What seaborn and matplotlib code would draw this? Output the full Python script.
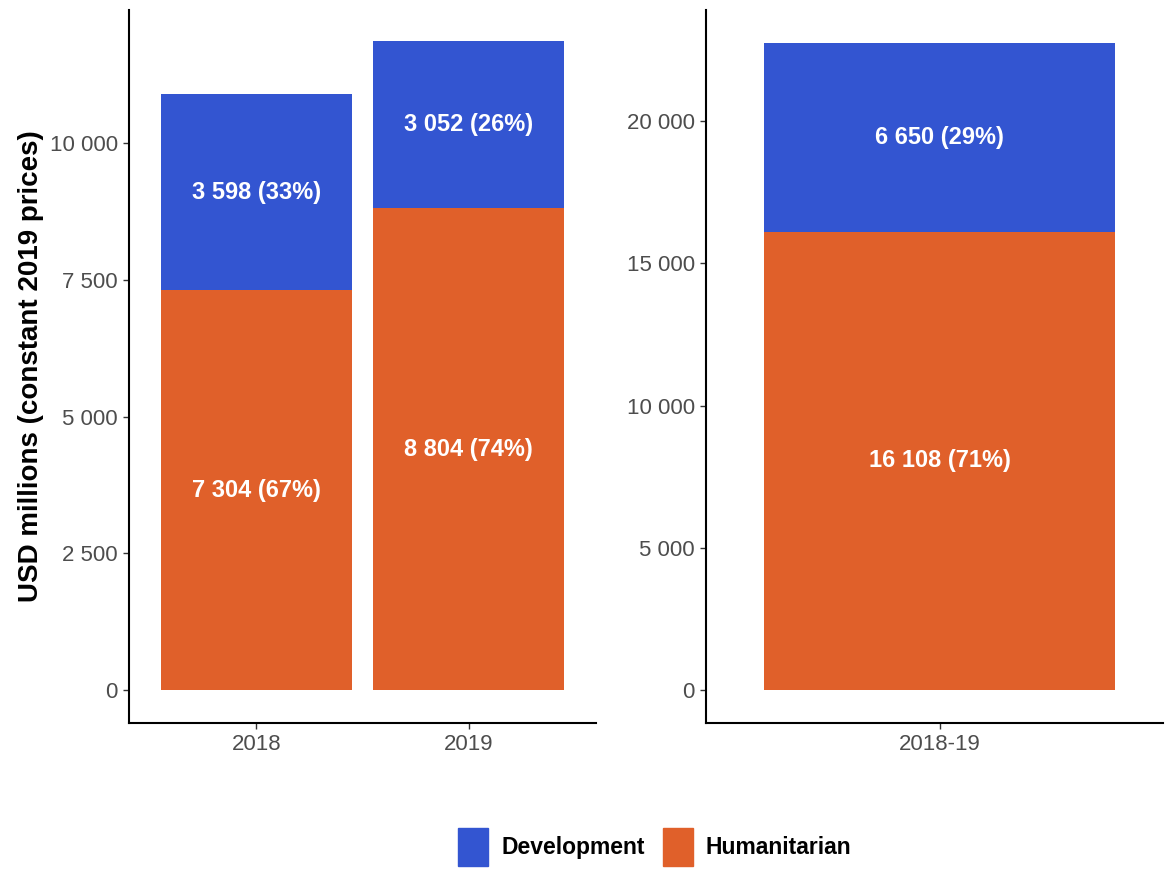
import matplotlib
matplotlib.use("Agg")
import matplotlib.pyplot as plt
from matplotlib.patches import Patch
from matplotlib.ticker import FuncFormatter
import seaborn as sns

# values (USD millions, constant 2019 prices)
years = ["2018", "2019"]
humanitarian = [7304, 8804]
development = [3598, 3052]

period = ["2018-19"]
humanitarian_total = [16108]
development_total = [6650]

left_ticks = [0, 2500, 5000, 7500, 10000]
right_ticks = [0, 5000, 10000, 15000, 20000]

blue = "#3355D1"
orange = "#E0602A"

sns.set_style("ticks")
plt.rcParams["font.family"] = ["Liberation Sans", "DejaVu Sans"]


def fmt(v):
    return f"{v:,.0f}".replace(",", " ")


def stacked(ax, cats, hum, dev):
    tot = [h + d for h, d in zip(hum, dev)]
    sns.barplot(x=cats, y=tot, color=blue, saturation=1, width=0.9,
                linewidth=0, errorbar=None, ax=ax)
    sns.barplot(x=cats, y=hum, color=orange, saturation=1, width=0.9,
                linewidth=0, errorbar=None, ax=ax)
    for i, (h, d) in enumerate(zip(hum, dev)):
        t = h + d
        ax.text(i, h / 2, f"{fmt(h)} ({round(100 * h / t)}%)", ha="center",
                va="center", color="white", fontsize=17, fontweight="bold")
        ax.text(i, h + d / 2, f"{fmt(d)} ({round(100 * d / t)}%)", ha="center",
                va="center", color="white", fontsize=17, fontweight="bold")


def style(ax, ticks):
    ax.set_yticks(ticks)
    ax.yaxis.set_major_formatter(FuncFormatter(lambda v, p: fmt(v)))
    for s in ["top", "right"]:
        ax.spines[s].set_visible(False)
    for s in ["left", "bottom"]:
        ax.spines[s].set_linewidth(1.5)
        ax.spines[s].set_color("black")
    ax.tick_params(length=4, width=1, color="#333333", labelsize=16,
                   labelcolor="#4D4D4D", pad=4)
    ax.set_xlabel("")


fig = plt.figure(figsize=(11.65, 8.69), dpi=100)
ax1 = fig.add_axes([0.1107, 0.168, 0.4009, 0.8205])
ax2 = fig.add_axes([0.606, 0.168, 0.3923, 0.8205])

stacked(ax1, years, humanitarian, development)
stacked(ax2, period, humanitarian_total, development_total)

style(ax1, left_ticks)
style(ax2, right_ticks)
ax1.set_xlim(-0.6, 1.6)
ax1.set_ylim(-603, 12431)
ax2.set_xlim(-0.6, 0.573)
ax2.set_ylim(-1160, 23902)

ax1.set_ylabel("USD millions (constant 2019 prices)", fontsize=20,
               fontweight="bold", color="black", labelpad=4)
ax2.set_ylabel("")

handles = [Patch(color=blue, label="Development"),
           Patch(color=orange, label="Humanitarian")]
fig.legend(handles=handles, loc="center", bbox_to_anchor=(0.562, 0.025),
           ncol=2, frameon=False, prop={"weight": "bold", "size": 16.5},
           labelcolor="black", handlelength=1.3, handleheight=2.2,
           handletextpad=0.56, columnspacing=0.8)

fig.savefig("out.png", dpi=100)
